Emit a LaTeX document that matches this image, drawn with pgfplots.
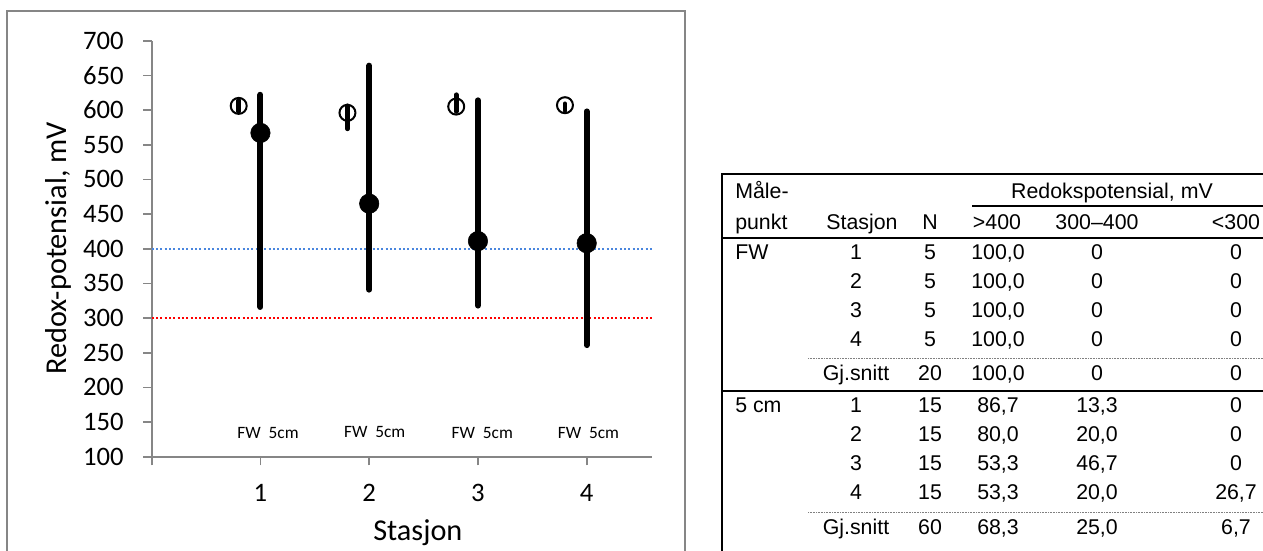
\documentclass[border=0pt]{standalone}
\usepackage{fontspec}
\setmainfont{Carlito}
\newfontfamily\arialf{Liberation Sans}
\usepackage{pgfplots}
\pgfplotsset{compat=1.18}
\definecolor{axgray}{RGB}{134,134,134}
\definecolor{lineblue}{RGB}{74,134,222}
\definecolor{linered}{RGB}{255,0,0}
\newcommand\tf{\arialf\fontsize{16}{18}\selectfont}
\newcommand\trow[6]{%
 \node[anchor=base,font=\tf] at (856,{#1+7.6}) {#2};
 \node[anchor=base,font=\tf] at (930,{#1+7.6}) {#3};
 \node[anchor=base,font=\tf] at (998,{#1+7.6}) {#4};
 \node[anchor=base,font=\tf] at (1097,{#1+7.6}) {#5};
 \node[anchor=base,font=\tf] at (1236,{#1+7.6}) {#6};}
\begin{document}
\begin{tikzpicture}
\begin{scope}[x=0.75pt,y=-0.75pt]
\useasboundingbox (0,0) rectangle (1263,544);
% chart frame
\draw[axgray, line width=1.5pt] (7,560) -- (7,11) -- (685,11) -- (685,560);
% table frame and rules
\draw[line width=1.5pt] (722,560) -- (722,174) -- (1275,174);
\draw[line width=1.2pt] (972,206) -- (1275,206);
\draw[line width=1.5pt] (722,238) -- (1275,238);
\draw[line width=0.6pt, gray, dash pattern=on 0.6pt off 0.6pt] (808,358) -- (1275,358);
\draw[line width=1.5pt] (722,390.5) -- (1275,390.5);
\draw[line width=0.6pt, gray, dash pattern=on 0.6pt off 0.6pt] (808,512.5) -- (1275,512.5);
% header
\node[anchor=base west, inner sep=0pt, font=\tf] at (735,198.6) {Måle-};
\node[anchor=base west, inner sep=0pt, font=\tf] at (735,229.6) {punkt};
\node[anchor=base, font=\tf] at (1112,198.6) {Redokspotensial, mV};
\node[anchor=base, font=\tf] at (862,229.6) {Stasjon};
\node[anchor=base, font=\tf] at (930,229.6) {N};
\node[anchor=base, font=\tf] at (997,229.6) {>400};
\node[anchor=base, font=\tf] at (1097,229.6) {300–400};
\node[anchor=base, font=\tf] at (1236,229.6) {<300};
% body
\node[anchor=base west, inner sep=0pt, font=\tf] at (735,259.6) {FW};
\trow{252}{1}{5}{100,0}{0}{0}
\trow{281}{2}{5}{100,0}{0}{0}
\trow{310}{3}{5}{100,0}{0}{0}
\trow{339}{4}{5}{100,0}{0}{0}
\trow{373}{Gj.snitt}{20}{100,0}{0}{0}
\node[anchor=base west, inner sep=0pt, font=\tf] at (735,412.6) {5 cm};
\trow{405}{1}{15}{86,7}{13,3}{0}
\trow{434}{2}{15}{80,0}{20,0}{0}
\trow{463}{3}{15}{53,3}{46,7}{0}
\trow{492}{4}{15}{53,3}{20,0}{26,7}
\trow{527}{Gj.snitt}{60}{68,3}{25,0}{6,7}
\end{scope}
\begin{axis}[
  at={(113.775pt,-342.525pt)}, anchor=south west,
  scale only axis, width=375.2pt, height=312pt,
  xmin=0, xmax=4.6, ymin=100, ymax=700,
  axis lines*=left,
  axis line style={draw=axgray, line width=1.3pt},
  xtick={0,1,2,3,4}, xticklabels={,1,2,3,4},
  ytick={100,150,...,700},
  minor tick num=0,
  tick align=outside, major tick length=6.5pt,
  tick style={draw=axgray, line width=1.3pt},
  /pgf/number format/assume math mode=true,
  ticklabel style={font=\fontsize{20}{24}\selectfont},
  yticklabel style={anchor=east, inner sep=0pt, xshift=-14.3pt},
  xticklabel style={anchor=base, inner sep=0pt, yshift=-27.25pt},
  label style={font=\fontsize{22.7}{27}\selectfont},
  xlabel={Stasjon},
  ylabel={Redox-potensial, mV},
  xlabel style={at={(axis description cs:0.532,-0.2026)}, anchor=base},
  ylabel style={at={(axis description cs:-0.17,0.501)}, anchor=base},
  clip=false,
]
\addplot[lineblue, line width=1.5pt, dash pattern=on 1.5pt off 1.75pt, forget plot] coordinates {(0,400) (4.6,400)};
\addplot[linered, line width=1.5pt, dash pattern=on 1.5pt off 1.75pt, forget plot] coordinates {(0,300) (4.6,300)};
\addplot[only marks, mark=*, mark size=7.3pt, mark options={fill=black, draw=black},
  error bars/.cd, y dir=both, y explicit, error mark=none,
  error bar style={black, line width=4.5pt, line cap=round}]
coordinates {
(1,567) += (0,55) -= (0,251)
(2,465) += (0,199) -= (0,124)
(3,411) += (0,203) -= (0,93)
(4,408) += (0,190) -= (0,147)
};
\addplot[only marks, mark=o, mark size=6pt, mark options={draw=black, line width=1.5pt, fill=none},
  error bars/.cd, y dir=both, y explicit, error mark=none,
  error bar style={black, line width=3.6pt, line cap=round}]
coordinates {
(0.8,606) += (0,8) -= (0,8)
(1.8,596) += (0,10) -= (0,23)
(2.8,605) += (0,17) -= (0,7)
(3.8,607) += (0,2) -= (0,8)
};
\node[font=\fontsize{13}{15}\selectfont] at (axis cs:1.07,134.6) {FW\ \ 5cm};
\node[font=\fontsize{13}{15}\selectfont] at (axis cs:2.05,136) {FW\ \ 5cm};
\node[font=\fontsize{13}{15}\selectfont] at (axis cs:3.04,133.7) {FW\ \ 5cm};
\node[font=\fontsize{13}{15}\selectfont] at (axis cs:4.016,133.7) {FW\ \ 5cm};
\end{axis}
\end{tikzpicture}
\end{document}
